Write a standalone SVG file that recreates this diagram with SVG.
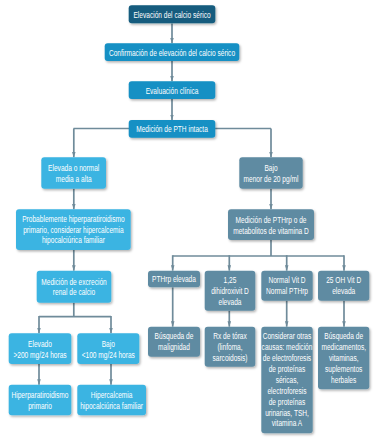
<svg xmlns="http://www.w3.org/2000/svg" width="379" height="441" viewBox="0 0 379 441">
<defs>
<filter id="sh" x="-10%" y="-10%" width="130%" height="140%">
<feDropShadow dx="1.2" dy="1.5" stdDeviation="1" flood-color="#000" flood-opacity="0.3"/>
</filter>
<marker id="ar" viewBox="0 0 6 4" refX="6" refY="2" markerWidth="3.2" markerHeight="2.4" orient="auto" markerUnits="strokeWidth">
<path d="M0,0 L6,2 L0,4 Z" fill="#6f8b9a"/>
</marker>
<style>
rect{filter:url(#sh)}
.d rect{fill:#135b7e}
.m rect{fill:#1690c4}
.l rect{fill:#3bb4e2}
.r rect{fill:#5e8ba2}
text{font-family:"Liberation Sans",Arial,sans-serif;font-size:9.4px;fill:#fff;text-anchor:middle}
#conn path{fill:none;stroke:#6f8b9a;stroke-width:1.7}
#conn .a{marker-end:url(#ar)}
</style>
</defs>
<rect width="379" height="441" fill="#fff" style="filter:none"/>
<g id="conn">
<path class="a" d="M172 23.5V43.3"/>
<path class="a" d="M172 61V81.3"/>
<path class="a" d="M172 99V120"/>
<path d="M73.5 128.5H271"/>
<path class="a" d="M73.8 128.5V157.3"/>
<path class="a" d="M271 128.5V157.3"/>
<path class="a" d="M73.8 188.7V209.3"/>
<path class="a" d="M73.8 250V270.7"/>
<path d="M73.8 302.7V316.7"/>
<path d="M39 316.7H111"/>
<path class="a" d="M39 316V333.3"/>
<path class="a" d="M111 316V333.3"/>
<path class="a" d="M39 364V384.7"/>
<path class="a" d="M111 364V384.7"/>
<path class="a" d="M271 188.7V209.3"/>
<path d="M271 240V256"/>
<path d="M172.7 256H344"/>
<path class="a" d="M172.7 255.2V270.7"/>
<path class="a" d="M229.3 255.2V270.7"/>
<path class="a" d="M286.7 255.2V270.7"/>
<path class="a" d="M344 255.2V270.7"/>
<path class="a" d="M172.7 287.3V326.7"/>
<path class="a" d="M229.3 310.7V326.7"/>
<path class="a" d="M286.7 300.7V326.7"/>
<path class="a" d="M344 300.7V326.7"/>
</g>
<g id="n1" class="d"><rect x="128.7" y="5.3" width="86.6" height="18" rx="3"/>
<text transform="translate(172 17.6) scale(0.7 1)">Elevación del calcio sérico</text></g>
<g id="n2" class="m"><rect x="104.7" y="43.3" width="134.6" height="17.7" rx="3"/>
<text transform="translate(172 55.5) scale(0.7 1)">Confirmación de elevación del calcio sérico</text></g>
<g id="n3" class="m"><rect x="128.7" y="81.3" width="86.6" height="17.7" rx="3"/>
<text transform="translate(172 93.5) scale(0.7 1)">Evaluación clínica</text></g>
<g id="n4" class="m"><rect x="128.7" y="120" width="86.6" height="17.7" rx="3"/>
<text transform="translate(172 132.2) scale(0.7 1)">Medición de PTH intacta</text></g>

<g id="l1" class="l"><rect x="41.3" y="157.3" width="64.7" height="31.4" rx="3"/>
<text transform="translate(73.7 171.3) scale(0.7 1)"><tspan x="0">Elevada o normal</tspan><tspan x="0" dy="10.7">media a alta</tspan></text></g>
<g id="l2" class="l"><rect x="16" y="209.3" width="114.7" height="40.7" rx="3"/>
<text transform="translate(73.4 222) scale(0.7 1)"><tspan x="0">Probablemente hiperparatiroidismo</tspan><tspan x="0" dy="10.7">primario, considerar hipercalcemia</tspan><tspan x="0" dy="10.7">hipocalciúrica familiar</tspan></text></g>
<g id="l3" class="l"><rect x="36.7" y="270.7" width="74.6" height="32" rx="3"/>
<text transform="translate(74 284.8) scale(0.7 1)"><tspan x="0">Medición de excreción</tspan><tspan x="0" dy="10.7">renal de calcio</tspan></text></g>
<g id="l4" class="l"><rect x="8.7" y="333.3" width="62.6" height="30.7" rx="3"/>
<text transform="translate(40 346.9) scale(0.7 1)"><tspan x="0">Elevado</tspan><tspan x="0" dy="10.9">&gt;200 mg/24 horas</tspan></text></g>
<g id="l5" class="l"><rect x="77.3" y="333.3" width="62" height="30.7" rx="3"/>
<text transform="translate(108.3 346.9) scale(0.7 1)"><tspan x="0">Bajo</tspan><tspan x="0" dy="10.9">&lt;100 mg/24 horas</tspan></text></g>
<g id="l6" class="l"><rect x="8.7" y="384.7" width="62.6" height="30.6" rx="3"/>
<text transform="translate(40 398.3) scale(0.7 1)"><tspan x="0">Hiperparatiroidismo</tspan><tspan x="0" dy="11">primario</tspan></text></g>
<g id="l7" class="l"><rect x="77.3" y="384.7" width="68.7" height="30.6" rx="3"/>
<text transform="translate(111.6 398.3) scale(0.7 1)"><tspan x="0">Hipercalcemia</tspan><tspan x="0" dy="11">hipocalciúrica familiar</tspan></text></g>

<g id="r1" class="r"><rect x="239.3" y="157.3" width="63.4" height="31.4" rx="3"/>
<text transform="translate(271 171.3) scale(0.7 1)"><tspan x="0">Bajo</tspan><tspan x="0" dy="10.7">menor de 20 pg/ml</tspan></text></g>
<g id="r2" class="r"><rect x="228" y="209.3" width="86" height="30.7" rx="3"/>
<text transform="translate(271 222.7) scale(0.7 1)"><tspan x="0">Medición de PTHrp o de</tspan><tspan x="0" dy="10.9">metabolitos de vitamina D</tspan></text></g>
<g id="r3" class="r"><rect x="148" y="270.7" width="52" height="16.6" rx="3"/>
<text transform="translate(174 282.3) scale(0.7 1)">PTHrp elevada</text></g>
<g id="r4" class="r"><rect x="204.7" y="270.7" width="50.6" height="40" rx="3"/>
<text transform="translate(230 282.8) scale(0.7 1)"><tspan x="0">1,25</tspan><tspan x="0" dy="11">dihidroxivit D</tspan><tspan x="0" dy="11">elevada</tspan></text></g>
<g id="r5" class="r"><rect x="261.3" y="270.7" width="51.4" height="30" rx="3"/>
<text transform="translate(287 283.3) scale(0.7 1)"><tspan x="0">Normal Vit D</tspan><tspan x="0" dy="11">Normal PTHrp</tspan></text></g>
<g id="r6" class="r"><rect x="318" y="270.7" width="51.3" height="30" rx="3"/>
<text transform="translate(343.7 283.3) scale(0.7 1)"><tspan x="0">25 OH Vit D</tspan><tspan x="0" dy="11">elevada</tspan></text></g>
<g id="r7" class="r"><rect x="148" y="326.7" width="52" height="30" rx="3"/>
<text transform="translate(174 339.3) scale(0.7 1)"><tspan x="0">Búsqueda de</tspan><tspan x="0" dy="11">malignidad</tspan></text></g>
<g id="r8" class="r"><rect x="204.7" y="326.7" width="50.6" height="40" rx="3"/>
<text transform="translate(230 339.3) scale(0.7 1)"><tspan x="0">Rx de tórax</tspan><tspan x="0" dy="11">(linfoma,</tspan><tspan x="0" dy="11">sarcoidosis)</tspan></text></g>
<g id="r9" class="r"><rect x="261.3" y="326.7" width="51.4" height="106.6" rx="3"/>
<text transform="translate(287 339.3) scale(0.7 1)"><tspan x="0">Considerar otras</tspan><tspan x="0" dy="10.9">causas: medición</tspan><tspan x="0" dy="10.9">de electroforesis</tspan><tspan x="0" dy="10.9">de proteínas</tspan><tspan x="0" dy="10.9">séricas,</tspan><tspan x="0" dy="10.9">electroforesis</tspan><tspan x="0" dy="10.9">de proteínas</tspan><tspan x="0" dy="10.9">urinarias, TSH,</tspan><tspan x="0" dy="10.9">vitamina A</tspan></text></g>
<g id="r10" class="r"><rect x="318" y="326.7" width="51.3" height="62.6" rx="3"/>
<text transform="translate(343.7 339.3) scale(0.7 1)"><tspan x="0">Búsqueda de</tspan><tspan x="0" dy="10.9">medicamentos,</tspan><tspan x="0" dy="10.9">vitaminas,</tspan><tspan x="0" dy="10.9">suplementos</tspan><tspan x="0" dy="10.9">herbales</tspan></text></g>
</svg>
